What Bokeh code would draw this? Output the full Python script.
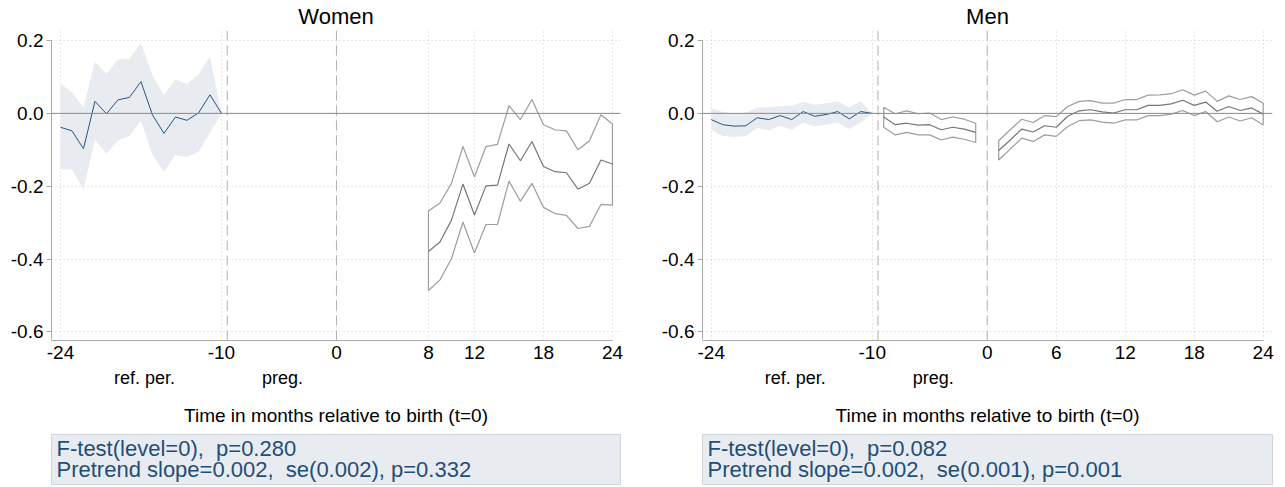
from bokeh.plotting import figure
from bokeh.layouts import row, column
from bokeh.models import (Range1d, LinearAxis, FixedTicker, Span, Grid,
                          PrintfTickFormatter)
from bokeh.core.properties import value
from bokeh.embed import file_html
from bokeh.resources import INLINE

FONT = "Liberation Sans"

# ---------------- data ----------------
# Women
w_ref_months = list(range(-24, -9))
w_ref_est = [-0.038, -0.048, -0.097, 0.033, -0.001, 0.037, 0.044, 0.087, -0.004, -0.055, -0.010, -0.019, 0.001, 0.051, 0.0]
w_ref_hi = [0.081, 0.058, 0.017, 0.142, 0.109, 0.148, 0.150, 0.193, 0.104, 0.051, 0.093, 0.081, 0.107, 0.157, 0.0]
w_ref_lo = [-0.154, -0.154, -0.209, -0.073, -0.111, -0.075, -0.062, -0.020, -0.114, -0.160, -0.114, -0.120, -0.105, -0.054, 0.0]

w_post_months = list(range(8, 25))
w_post_est = [-0.379, -0.353, -0.293, -0.194, -0.279, -0.199, -0.197, -0.084, -0.130, -0.077, -0.146, -0.160, -0.163, -0.208, -0.192, -0.128, -0.139]
w_post_hi = [-0.268, -0.246, -0.192, -0.091, -0.174, -0.091, -0.085, 0.021, -0.017, 0.038, -0.031, -0.045, -0.048, -0.100, -0.075, -0.004, -0.029]
w_post_lo = [-0.486, -0.457, -0.399, -0.298, -0.383, -0.305, -0.305, -0.186, -0.241, -0.192, -0.258, -0.275, -0.280, -0.316, -0.310, -0.250, -0.252]

# Men
m_ref_months = list(range(-24, -9))
m_ref_est = [-0.017, -0.031, -0.035, -0.034, -0.012, -0.017, -0.006, -0.017, 0.005, -0.008, -0.003, 0.005, -0.015, 0.005, 0.0]
m_ref_hi = [0.015, 0.004, -0.001, 0.002, 0.016, 0.017, 0.020, 0.021, 0.032, 0.024, 0.028, 0.033, 0.016, 0.034, 0.0]
m_ref_lo = [-0.045, -0.062, -0.065, -0.063, -0.040, -0.047, -0.034, -0.045, -0.025, -0.036, -0.031, -0.025, -0.043, -0.025, 0.0]

m_preg_months = list(range(-9, 0))
m_preg_est = [-0.010, -0.031, -0.027, -0.032, -0.031, -0.045, -0.038, -0.043, -0.052]
m_preg_hi = [0.017, -0.001, 0.007, -0.001, 0.001, -0.017, -0.010, -0.016, -0.027]
m_preg_lo = [-0.038, -0.059, -0.052, -0.059, -0.059, -0.073, -0.065, -0.071, -0.080]

m_post_months = list(range(1, 25))
m_post_est = [-0.102, -0.073, -0.043, -0.051, -0.034, -0.038, -0.008, 0.007, 0.010, 0.004, 0.001, 0.010, 0.010, 0.022, 0.022, 0.026, 0.036, 0.022, 0.031, 0.006, 0.019, 0.008, 0.015, -0.002]
m_post_hi = [-0.075, -0.045, -0.016, -0.025, -0.006, -0.009, 0.019, 0.033, 0.035, 0.028, 0.028, 0.038, 0.038, 0.050, 0.051, 0.054, 0.065, 0.050, 0.061, 0.033, 0.048, 0.038, 0.046, 0.028]
m_post_lo = [-0.128, -0.098, -0.068, -0.077, -0.059, -0.063, -0.036, -0.020, -0.018, -0.024, -0.027, -0.018, -0.018, -0.006, -0.006, -0.002, 0.008, -0.006, 0.005, -0.023, -0.010, -0.021, -0.012, -0.032]

women_xticks = [-24, -10, 0, 8, 12, 18, 24]
men_xticks = [-24, -10, 0, 6, 12, 18, 24]
y_ticks = [-0.6, -0.4, -0.2, 0.0, 0.2]
period_names = ["ref. per.", "preg."]
period_lines = [-9.5, 0]
x_title = "Time in months relative to birth (t=0)"
women_note = ["F-test(level=0), \u00a0p=0.280", "Pretrend slope=0.002, \u00a0se(0.002), p=0.332"]
men_note = ["F-test(level=0), \u00a0p=0.082", "Pretrend slope=0.002, \u00a0se(0.001), p=0.001"]

# ---------------- styles ----------------
BLUE = "#2c5282"
BAND = "#e8ecf1"
GRAY_CI = "#9d9d9d"
GRAY_EST = "#767676"
AXIS = "#a8a8a8"
GRID = "#cfcfcf"
NOTE_BG = "#e8ecf1"
NOTE_BORDER = "#cfd5dc"
NOTE_TXT = "#1f4e79"
PERIOD_POS = [-16.7, -4.7]


def make_panel(title, xticks, xr, bl, br, fw, ref, grays, note):
    p = figure(frame_width=fw, frame_height=310, x_range=Range1d(*xr),
               y_range=Range1d(-0.6234, 0.2275), x_axis_type=None, y_axis_type=None,
               output_backend="svg", toolbar_location=None,
               min_border_left=bl, min_border_right=br, min_border_top=30,
               min_border_bottom=87, outline_line_color=None,
               background_fill_color="white", border_fill_color="white")
    p.title.text = title
    p.title.align = "center"
    p.title.text_font = FONT
    p.title.text_font_size = "22px"
    p.title.text_font_style = "normal"
    p.title.text_color = "black"
    p.title.standoff = 3

    yax = LinearAxis(ticker=FixedTicker(ticks=y_ticks),
                     formatter=PrintfTickFormatter(format="%.1f"),
                     bounds=(-0.62, 0.2))
    xax = LinearAxis(ticker=FixedTicker(ticks=xticks),
                     formatter=PrintfTickFormatter(format="%d"),
                     bounds=(xr[0], 24))
    for ax in (yax, xax):
        ax.axis_line_color = AXIS
        ax.major_tick_line_color = AXIS
        ax.minor_tick_line_color = None
        ax.major_label_text_font = FONT
        ax.major_label_text_font_size = "19px"
        ax.major_label_text_color = "black"
        ax.major_tick_in = 0
    yax.major_tick_out = 5
    yax.major_label_standoff = 3
    xax.major_tick_out = 0
    xax.major_label_standoff = 5
    p.add_layout(yax, "left")
    p.add_layout(xax, "below")

    xax2 = LinearAxis(ticker=FixedTicker(ticks=PERIOD_POS),
                      major_label_overrides={PERIOD_POS[0]: period_names[0],
                                             PERIOD_POS[1]: period_names[1]},
                      axis_line_color=None, major_tick_line_color=None,
                      minor_tick_line_color=None, major_label_standoff=0,
                      major_label_text_font=FONT, major_label_text_font_size="18px",
                      major_label_text_color="black",
                      axis_label=x_title, axis_label_text_font=FONT,
                      axis_label_text_font_size="19px",
                      axis_label_text_font_style="normal",
                      axis_label_text_color="black", axis_label_standoff=14)
    p.add_layout(xax2, "below")

    p.add_layout(Grid(dimension=0, ticker=xax.ticker, grid_line_color=GRID,
                      grid_line_dash="1 3", grid_line_width=1))
    p.add_layout(Grid(dimension=1, ticker=yax.ticker, grid_line_color=GRID,
                      grid_line_dash="1 3", grid_line_width=1))

    # reference period: shaded CI + blue estimate
    months, est, lo, hi = ref
    p.varea(x=months, y1=lo, y2=hi, fill_color=BAND, fill_alpha=1)
    p.line(months, est, line_color=BLUE, line_width=1)

    # other periods: outlined CI + gray estimate
    for months, est, lo, hi in grays:
        p.patch(months + months[::-1], hi + lo[::-1], fill_color=None,
                line_color=GRAY_CI, line_width=1.2)
        p.line(months, est, line_color=GRAY_EST, line_width=1.2)

    for loc in period_lines:
        p.add_layout(Span(location=loc, dimension="height", line_color="#b0b0b0",
                          line_dash="10 5", line_width=1))
    p.add_layout(Span(location=0, dimension="width", line_color="#8a8a8a",
                      line_width=1))

    n = figure(frame_width=fw, frame_height=50, x_range=Range1d(0, 1),
               y_range=Range1d(0, 1), x_axis_type=None, y_axis_type=None,
               output_backend="svg", toolbar_location=None,
               min_border_left=bl, min_border_right=br, min_border_top=6,
               min_border_bottom=4, background_fill_color=NOTE_BG,
               outline_line_color=NOTE_BORDER, border_fill_color="white")
    n.text(x=[0, 0], y=[0.72, 0.30], text=note, x_offset=5,
           text_baseline="middle", text_align="left",
           text_font=value(FONT), text_font_size="22px", text_color=NOTE_TXT)
    return column(p, n, spacing=0)


left = make_panel("Women", women_xticks, (-24.78, 24.70), 51, 22, 569,
                  (w_ref_months, w_ref_est, w_ref_lo, w_ref_hi),
                  [(w_post_months, w_post_est, w_post_lo, w_post_hi)],
                  women_note)
right = make_panel("Men", men_xticks, (-24.76, 24.81), 60, 13, 570,
                   (m_ref_months, m_ref_est, m_ref_lo, m_ref_hi),
                   [(m_preg_months, m_preg_est, m_preg_lo, m_preg_hi),
                    (m_post_months, m_post_est, m_post_lo, m_post_hi)],
                   men_note)

layout = row(left, right, spacing=0)
open("out.html", "w").write(file_html(layout, INLINE))
